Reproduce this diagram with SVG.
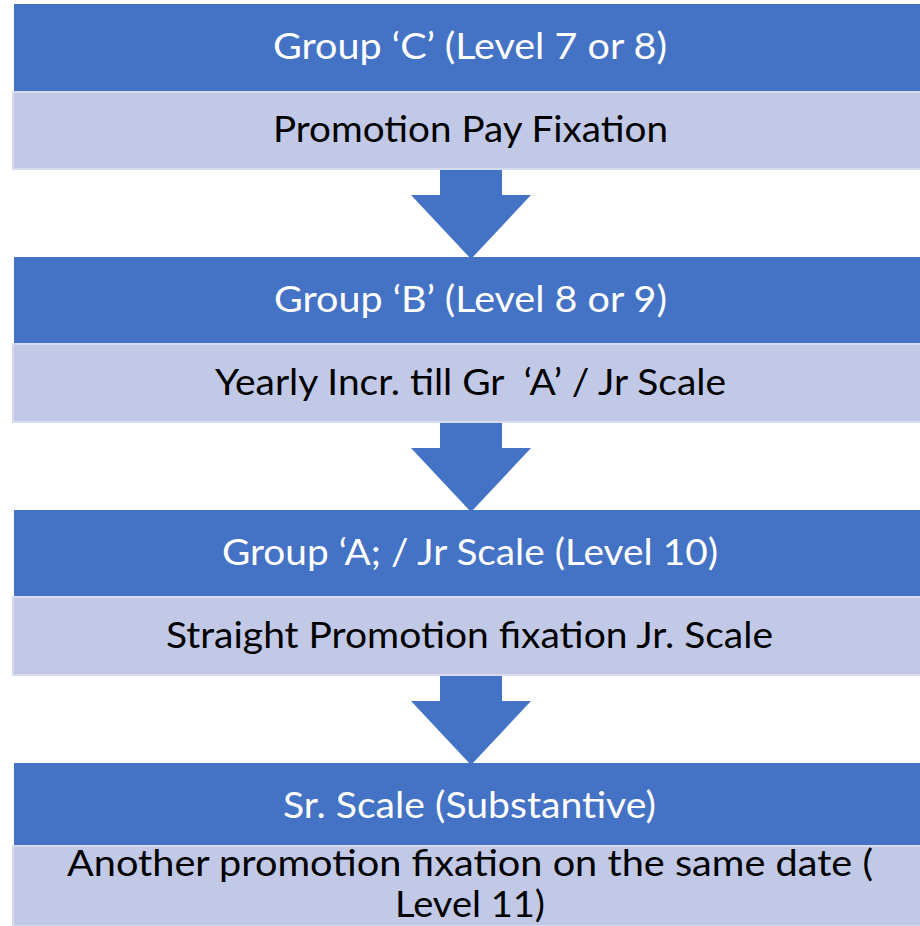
<svg xmlns="http://www.w3.org/2000/svg" width="920" height="926" viewBox="0 0 920 926">
  <style>
    .hdr { fill: #4472C4; }
    .sub { fill: #C1C9E6; stroke: #D6DCEF; stroke-width: 2; }
    .arrow { fill: #4472C4; }
    .t { font-family: Lato, "Liberation Sans", "DejaVu Sans", sans-serif; font-size: 36px; text-anchor: middle; lengthAdjust: spacingAndGlyphs; }
    .tw { fill: #FFFFFF; }
    .tb { fill: #000000; }
  </style>
  <rect x="0" y="0" width="920" height="926" fill="#FFFFFF"/>

  <g id="connectors">
    <path class="arrow" d="M440,169 L502,169 L502,195 L531,195 L471,259 L411,195 L440,195 Z"/>
    <path class="arrow" d="M440,422 L502,422 L502,448 L531,448 L471,512 L411,448 L440,448 Z"/>
    <path class="arrow" d="M440,675 L502,675 L502,701 L531,701 L471,765 L411,701 L440,701 Z"/>
  </g>

  <g id="node-group-c">
    <rect class="hdr" x="14" y="4" width="910" height="88"/>
    <text class="t tw" x="470" y="59" textLength="394" lengthAdjust="spacingAndGlyphs">Group ‘C’ (Level 7 or 8)</text>
  </g>
  <g id="node-promotion-pay">
    <rect class="sub" x="13" y="92" width="912" height="77"/>
    <text class="t tb" x="470.5" y="142" textLength="395" lengthAdjust="spacingAndGlyphs">Promotion Pay Fixation</text>
  </g>

  <g id="node-group-b">
    <rect class="hdr" x="14" y="257" width="910" height="87"/>
    <text class="t tw" x="470.5" y="312" textLength="393" lengthAdjust="spacingAndGlyphs">Group ‘B’ (Level 8 or 9)</text>
  </g>
  <g id="node-yearly-incr">
    <rect class="sub" x="13" y="344" width="912" height="78"/>
    <text class="t tb" x="470.5" y="395" textLength="511" lengthAdjust="spacingAndGlyphs" xml:space="preserve">Yearly Incr. till Gr  ‘A’ / Jr Scale</text>
  </g>

  <g id="node-group-a">
    <rect class="hdr" x="14" y="510" width="910" height="87"/>
    <text class="t tw" x="470" y="565" textLength="496" lengthAdjust="spacingAndGlyphs">Group ‘A; / Jr Scale (Level 10)</text>
  </g>
  <g id="node-straight-promotion">
    <rect class="sub" x="13" y="597" width="912" height="78"/>
    <text class="t tb" x="469.5" y="648" textLength="607" lengthAdjust="spacingAndGlyphs">Straight Promotion fixation Jr. Scale</text>
  </g>

  <g id="node-sr-scale">
    <rect class="hdr" x="14" y="763" width="910" height="83"/>
    <text class="t tw" x="469.5" y="818" textLength="373" lengthAdjust="spacingAndGlyphs">Sr. Scale (Substantive)</text>
  </g>
  <g id="node-another-promotion">
    <rect class="sub" x="13" y="846" width="912" height="80"/>
    <text class="t tb" x="470" y="876" textLength="806" lengthAdjust="spacingAndGlyphs">Another promotion fixation on the same date (</text>
    <text class="t tb" x="470" y="917" textLength="150" lengthAdjust="spacingAndGlyphs">Level 11)</text>
  </g>
</svg>
